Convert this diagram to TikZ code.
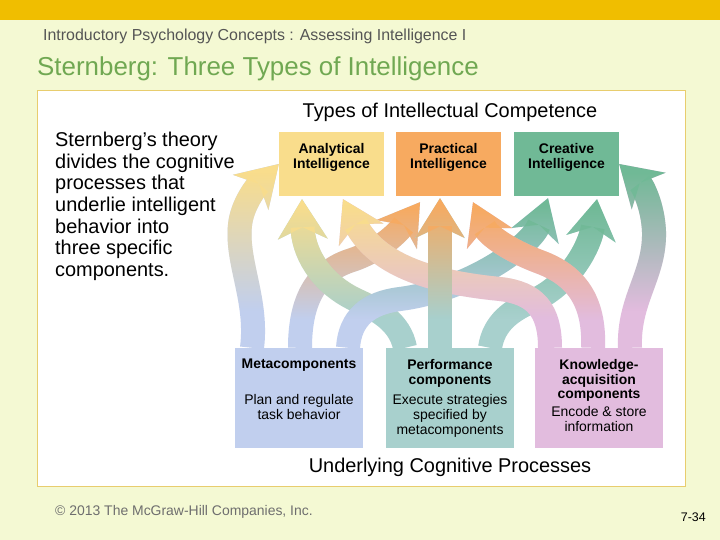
\documentclass[tikz,border=0pt]{standalone}
\usepackage{fontspec}
\setmainfont{Liberation Sans}
\usetikzlibrary{arrows.meta,positioning,calc,fadings}
\definecolor{pagebg}{RGB}{244,249,211}
\definecolor{topbar}{RGB}{240,190,0}
\definecolor{panelrule}{RGB}{232,205,110}
\definecolor{titlegreen}{RGB}{112,168,82}
\definecolor{headgray}{RGB}{85,85,85}
\definecolor{footgray}{RGB}{110,110,110}
\definecolor{anayellow}{RGB}{249,221,140}
\definecolor{pracorange}{RGB}{247,170,96}
\definecolor{creagreen}{RGB}{112,185,150}
\definecolor{metablue}{RGB}{193,207,238}
\definecolor{perfteal}{RGB}{168,208,205}
\definecolor{knowpink}{RGB}{226,188,222}
\pgfdeclareverticalshading{upshade}{100bp}{color(0bp)=(black); color(37bp)=(black); color(70bp)=(white); color(100bp)=(white)}
\pgfdeclarefading{upfade}{\pgfuseshading{upshade}}
\newcommand{\flow}[3]{\draw[band,#1] #3; \draw[band,#2,path fading=upfade] #3;}

\begin{document}
\begin{tikzpicture}[x=1bp,y=-1bp,
kind/.style={minimum width=105bp,minimum height=64bp,inner sep=0pt},
proc/.style={minimum width=128bp,minimum height=100bp,inner sep=0pt},
lbl/.style={font=\fontsize{14}{15}\selectfont,align=center,inner sep=0pt,anchor=north},
band/.style={line width=24bp,-{Stealth[length=40bp,width=50bp,inset=12bp,line width=0pt]}}
]
\useasboundingbox (0,0) rectangle (720,540);
\fill[pagebg] (0,0) rectangle (720,540);
\fill[topbar] (0,0) rectangle (720,20);
\draw[panelrule,fill=white] (37,90) rectangle (685,486);

\node[anchor=base west,text=headgray,font=\fontsize{16}{18}\selectfont,inner sep=0pt] (course) at (43,41) {Introductory Psychology Concepts : Assessing Intelligence I};
\node[anchor=base west,text=titlegreen,font=\fontsize{26}{29}\selectfont,inner sep=0pt] (title) at (37,76) {Sternberg: Three Types of Intelligence};

\node[anchor=base,font=\fontsize{20}{23}\selectfont,inner sep=0pt] (typesh) at (450,118) {Types of Intellectual Competence};
\node[anchor=base,font=\fontsize{20}{23}\selectfont,inner sep=0pt] (procsh) at (450,472) {Underlying Cognitive Processes};
\node[anchor=north west,align=left,font=\fontsize{20}{21.7}\selectfont,inner sep=0pt] (theory) at (55,132) {Sternberg’s theory\\divides the cognitive\\processes that\\underlie intelligent\\behavior into\\three specific\\components.};

\node[kind,fill=anayellow] (ana) at (331.5,164) {};
\node[kind,fill=pracorange] (prac) at (448.5,164) {};
\node[kind,fill=creagreen] (crea) at (566.5,164) {};
\node[proc,fill=metablue] (meta) at (299,398) {};
\node[proc,fill=perfteal] (perf) at (450,398) {};
\node[proc,fill=knowpink] (know) at (599,398) {};

\flow{metablue}{anayellow}{($(meta.north)+(-47,0)$) .. controls (258,300) and (236,262) .. (240,225) .. controls (242,205) and (256,187) .. (ana.west)}
\flow{metablue}{pracorange}{($(meta.north)+(1,0)$) .. controls (300,295) and (320,270) .. (352,260) .. controls (382,250) and (400,230) .. ($(prac.south)+(-28.5,6)$)}
\flow{perfteal}{anayellow}{($(perf.north)+(-45,0)$) .. controls (400,322) and (378,310) .. (356,300) .. controls (318,282) and (303,250) .. ($(ana.south)+(-29.5,3)$)}
\flow{metablue}{creagreen}{($(meta.north)+(49,0)$) .. controls (350,318) and (368,303) .. (400,299) .. controls (470,290) and (532,245) .. ($(crea.south)+(-18.5,2)$)}
\flow{perfteal}{creagreen}{($(perf.north)+(40,0)$) .. controls (494,322) and (512,310) .. (535,300) .. controls (572,282) and (590,245) .. ($(crea.south)+(30.5,3)$)}
\flow{knowpink}{anayellow}{($(know.north)+(-49,0)$) .. controls (550,310) and (535,293) .. (500,289) .. controls (450,284) and (380,272) .. ($(ana.south)+(11.5,3)$)}
\flow{knowpink}{pracorange}{($(know.north)+(-6,0)$) .. controls (595,300) and (575,275) .. (540,262) .. controls (508,250) and (488,235) .. ($(prac.south)+(24.5,6)$)}
\flow{knowpink}{creagreen}{($(know.north)+(31,0)$) .. controls (628,300) and (655,275) .. (654,232) .. controls (653,205) and (642,185) .. (crea.east)}
\flow{perfteal}{pracorange}{($(perf.north)+(-10,0)$) -- ($(prac.south)+(-8.5,2)$)}

\node[lbl,font=\fontsize{14}{15}\selectfont\bfseries] (analbl) at ($(ana.north)+(0,11)$) {Analytical\\Intelligence};
\node[lbl,font=\fontsize{14}{15}\selectfont\bfseries] (praclbl) at ($(prac.north)+(0,11)$) {Practical\\Intelligence};
\node[lbl,font=\fontsize{14}{15}\selectfont\bfseries] (crealbl) at ($(crea.north)+(0,11)$) {Creative\\Intelligence};
\node[lbl] (metalbl) at ($(meta.north)+(0,11)$) {\textbf{Metacomponents}\\[21bp]Plan and regulate\\task behavior};
\node[lbl] (perflbl) at ($(perf.north)+(0,11)$) {\textbf{Performance}\\\textbf{components}\\[6bp]Execute strategies\\specified by\\metacomponents};
\node[lbl] (knowlbl) at ($(know.north)+(0,11)$) {\textbf{Knowledge-}\\\textbf{acquisition}\\\textbf{components}\\[3bp]Encode \& store\\information};

\node[anchor=base west,text=footgray,font=\fontsize{14}{16}\selectfont,inner sep=0pt] (copy) at (55,515) {© 2013 The McGraw-Hill Companies, Inc.};
\node[anchor=base east,font=\fontsize{12.5}{15}\selectfont,inner sep=0pt] (slide) at (706,521) {7-34};
\end{tikzpicture}
\end{document}
